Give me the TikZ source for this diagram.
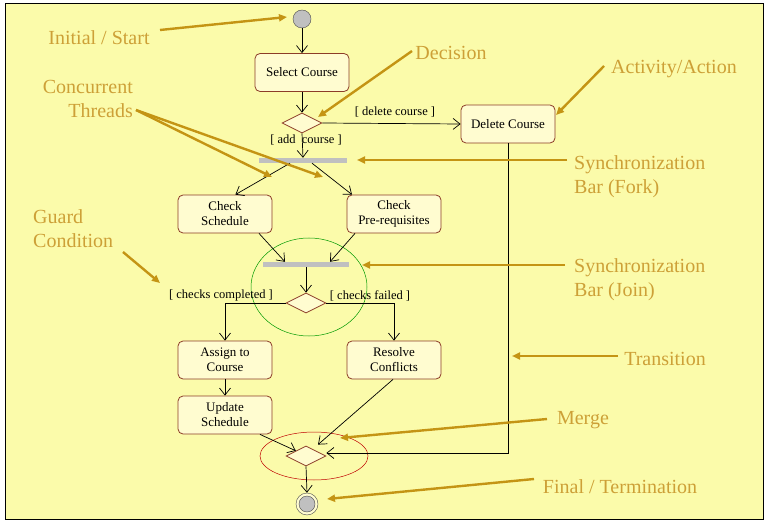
\documentclass[tikz,border=0pt]{standalone}
\usepackage{fontspec}
\setmainfont{Liberation Serif}
\usetikzlibrary{shapes.geometric,arrows.meta,calc}
\definecolor{bgyellow}{RGB}{251,251,170}
\definecolor{boxfill}{RGB}{255,252,208}
\definecolor{boxedge}{RGB}{140,60,40}
\definecolor{goldline}{RGB}{196,148,20}
\definecolor{goldtext}{RGB}{205,160,55}
\definecolor{barc}{RGB}{192,192,192}
\begin{document}
\begin{tikzpicture}[x=1pt,y=-1pt,
  act/.style={draw=boxedge,line width=0.8pt,fill=boxfill,rounded corners=5pt,minimum width=94pt,minimum height=38pt,inner sep=0pt,align=center,font=\fontsize{13}{15}\selectfont},
  dec/.style={diamond,draw=boxedge,line width=0.8pt,fill=boxfill,minimum width=40pt,minimum height=20pt,inner sep=0pt,aspect=2},
  bar/.style={fill=barc,inner sep=0pt,minimum height=5pt},
  flow/.style={draw=black,line width=0.7pt,-{Straight Barb[length=7pt,width=11pt]}},
  guard/.style={font=\fontsize{12.5}{14}\selectfont,inner sep=0pt,yshift=-1.5pt},
  callout/.style={draw=goldline,line width=2.4pt,-{Triangle[length=8pt,width=7pt]}},
  lbl/.style={text=goldtext,font=\fontsize{20}{24}\selectfont,inner sep=0pt,yshift=-2pt}]
\useasboundingbox (0,0) rectangle (768,521);
\fill[white] (0,0) rectangle (768,521);
\draw[fill=bgyellow,line width=1pt] (5,4) rectangle (763,519);

% nodes
\node[circle,draw=black!70,fill=barc,minimum size=18pt,inner sep=0pt] (init) at (302,19) {};
\node[act] (sel) at (302,72.5) {Select Course};
\node[dec] (d1) at (302,123) {};
\node[act] (del) at (508,124) {Delete Course};
\node[bar,minimum width=88pt] (fork) at (303,160.5) {};
\node[act] (cs) at (225,214) {Check\\Schedule};
\node[act] (cp) at (394,214) {Check\\Pre-requisites};
\node[bar,minimum width=86pt] (join) at (306,264.5) {};
\node[dec] (d2) at (306,303) {};
\node[act] (asg) at (225,360) {Assign to\\Course};
\node[act] (res) at (394,360) {Resolve\\Conflicts};
\node[act] (upd) at (225,415) {Update\\Schedule};
\node[dec] (mrg) at (306,456) {};
\node[circle,draw=black!70,fill=boxfill,minimum size=22pt,inner sep=0pt] (fin) at (307,504) {};
\node[circle,draw=black!70,fill=barc,minimum size=16pt,inner sep=0pt] (finin) at (307,504) {};

% highlight ellipses
\draw[green!60!black,line width=0.5pt] (309,287) ellipse [x radius=58pt,y radius=49pt];
\draw[red!75!black,line width=0.5pt] (314,456) ellipse [x radius=54pt,y radius=24pt];

% flows
\draw[flow] (init) -- (sel);
\draw[flow] (sel) -- (d1);
\draw[flow] (d1.south) -- (fork.north);
\draw[flow] (d1.east) -- (del.west);
\node[guard] (gadd) at (306,139) {[ add\ \ course ]};
\node[guard] (gdel) at (395,111) {[ delete course ]};
\draw[flow] ([xshift=-13pt]fork.south) -- ([xshift=-37pt]cs.north east);
\draw[flow] ([xshift=9pt]fork.south) -- ([xshift=-42pt]cp.north);
\draw[flow] ([xshift=34pt]cs.south) -- ([xshift=-21pt]join.north);
\draw[flow] ([xshift=-39pt]cp.south) -- ([xshift=24pt]join.north);
\draw[flow] (join.south) -- (d2.north);
\draw[flow] (d2.west) -| (asg.north);
\draw[flow] (d2.east) -| (res.north);
\node[guard] (gok) at (221,294) {[ checks completed ]};
\node[guard] (gfail) at (370,294) {[ checks failed ]};
\draw[flow] (asg) -- (upd);
\draw[flow] ([xshift=35pt]upd.south) -- (mrg.north west);
\draw[flow] ([xshift=-1pt]res.south) -- ([xshift=12pt,yshift=1pt]mrg.north);
\draw[flow] (del.south) |- ([yshift=3pt]mrg.east);
\draw[flow] (mrg.south) -- (fin.north);

% callout labels
\node[lbl] (tInit) at (99,36) {Initial / Start};
\node[lbl] (tDec) at (451,51) {Decision};
\node[lbl] (tAct) at (674,67) {Activity/Action};
\node[lbl,align=right,anchor=east] (tThr) at (133,97) {Concurrent\\Threads};
\node[lbl,align=left,anchor=west] (tFork) at (574,175) {Synchronization\\Bar (Fork)};
\node[lbl,align=left,anchor=west] (tGuard) at (33,227) {Guard\\Condition};
\node[lbl,align=left,anchor=west] (tJoin) at (574,278) {Synchronization\\Bar (Join)};
\node[lbl] (tTrans) at (665,357) {Transition};
\node[lbl] (tMerge) at (583,418) {Merge};
\node[lbl] (tFin) at (620,485) {Final / Termination};

\coordinate (aInit) at (160,30);
\coordinate (aDec) at (412,51);
\coordinate (aAct) at (604,66);
\coordinate (aThr) at (136,110);
\coordinate (aFork) at (567,160);
\coordinate (aGuard) at (123,252);
\coordinate (aJoin) at (565,265);
\coordinate (aTrans) at (618,356);
\coordinate (aMerge) at (547,419);
\coordinate (aFin) at (534,479);

\draw[callout] (aInit) -- (287,17);
\draw[callout] (aDec) -- (318,117);
\draw[callout] (aAct) -- (556,115);
\draw[callout] (aThr) -- (272,177);
\draw[callout] (aThr) -- (323,177);
\draw[callout] (aFork) -- (357,160);
\draw[callout] (aGuard) -- (160,283);
\draw[callout] (aJoin) -- (362,265);
\draw[callout] (aTrans) -- (512,356);
\draw[callout] (aMerge) -- (340,438);
\draw[callout] (aFin) -- (327,499);
\end{tikzpicture}
\end{document}
